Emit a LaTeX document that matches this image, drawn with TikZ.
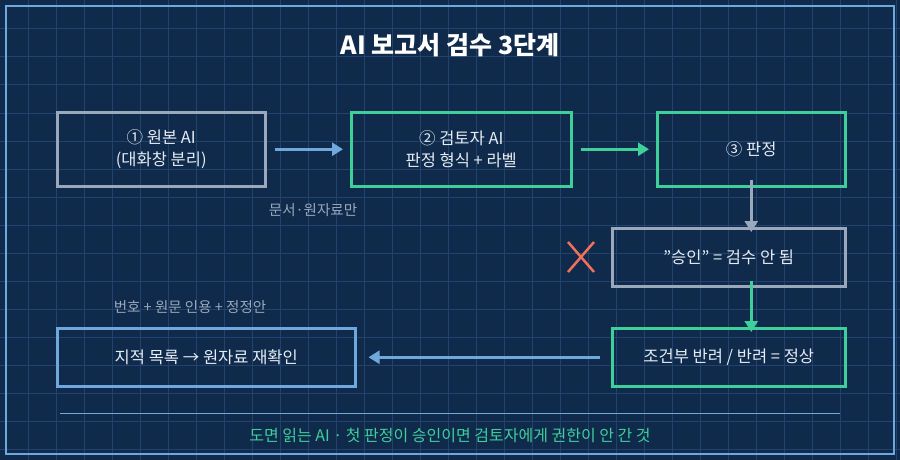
\documentclass[tikz,border=0pt]{standalone}
\usepackage{fontspec}
\setmainfont{Noto Sans CJK KR}
\usetikzlibrary{arrows.meta, positioning, calc}
\definecolor{bgblue}{HTML}{0F2A4B}
\definecolor{gridblue}{HTML}{21436E}
\definecolor{framegray}{HTML}{9AA8BC}
\definecolor{okgreen}{HTML}{3ECF9A}
\definecolor{lineblue}{HTML}{6FA8DC}
\definecolor{softwhite}{HTML}{E6ECF4}
\definecolor{crossred}{HTML}{F0705A}
\tikzset{
    boxnode/.style = {draw, rectangle, line width=2.5pt, fill=none, text=softwhite, 
      font=\fontsize{16.5}{22}\selectfont, align=center, anchor=north west},
    graybox/.style = {boxnode, draw=framegray},
    greenbox/.style = {boxnode, draw=okgreen},
    bluebox/.style = {boxnode, draw=lineblue},
    notenode/.style = {text=framegray, font=\fontsize{14.5}{17}\selectfont},
    connect/.style = {line width=2.5pt, -{Triangle[length=11pt, width=13pt]}}
}
\begin{document}
\begin{tikzpicture}[x=1pt, y=-1pt]
\fill[bgblue] (0,0) rectangle (900,460);
\useasboundingbox (0,0) rectangle (900,460);
% grid
\foreach \x in {28,56,...,896} \draw[gridblue, line width=1pt] (\x,0) -- (\x,460);
\foreach \y in {29,57,...,457} \draw[gridblue, line width=1pt] (0,\y) -- (900,\y);
\draw[lineblue, line width=1.5pt] (6,6) rectangle (894,454);

\node[name=Title, text=white, font=\fontsize{25}{30}\selectfont\bfseries] at (450,45) {AI 보고서 검수 3단계};

\node[graybox, name=Original, minimum width=208pt, minimum height=74pt] at (56,111) {① 원본 AI\\(대화창 분리)};
\node[greenbox, name=Reviewer, minimum width=220pt, minimum height=74pt] at (350,111) {② 검토자 AI\\판정 형식 + 라벨};
\node[greenbox, name=Verdict, minimum width=188pt, minimum height=74pt] at (656,111) {③ 판정};
\node[graybox, name=Approve, minimum width=233pt, minimum height=58pt] at (611,227) {\symbol{34}승인\symbol{34} = 검수 안 됨};
\node[greenbox, name=Reject, minimum width=233pt, minimum height=58pt] at (611,327) {조건부 반려 / 반려 = 정상};
\node[bluebox, name=Recheck, minimum width=298pt, minimum height=58pt] at (56,327) {지적 목록 → 원자료 재확인};

\draw[connect, lineblue] ([xshift=8pt]Original.east) -- ([xshift=-7pt]Reviewer.west);
\draw[connect, okgreen] ([xshift=8pt]Reviewer.east) -- ([xshift=-7pt]Verdict.west);
\draw[connect, framegray] ([yshift=8pt]Verdict.south) -- ([yshift=-5pt]Verdict.south |- Approve.north);
\draw[connect, okgreen] ([yshift=7pt]Verdict.south |- Approve.south) -- ([yshift=-5pt]Verdict.south |- Reject.north);
\draw[connect, lineblue] ([xshift=-11pt]Reject.west) -- ([xshift=12pt]Recheck.east);

\node[notenode, name=DocsOnly] at (313,210) {문서·원자료만};
\node[notenode, name=Items] at (190,307) {번호 + 원문 인용 + 정정안};

% cross mark
\coordinate (Cross) at (581,257);
\draw[crossred, line width=2.5pt] ($(Cross)+(-13,-15)$) -- ($(Cross)+(13,15)$)
  ($(Cross)+(13,-15)$) -- ($(Cross)+(-13,15)$);

\draw[lineblue, line width=1pt] (60,413) -- (840,413);
\node[name=Footer, text=okgreen, font=\fontsize{16}{19}\selectfont] at (450,435) 
  {도면 읽는 AI · 첫 판정이 승인이면 검토자에게 권한이 안 간 것};
\end{tikzpicture}
\end{document}
